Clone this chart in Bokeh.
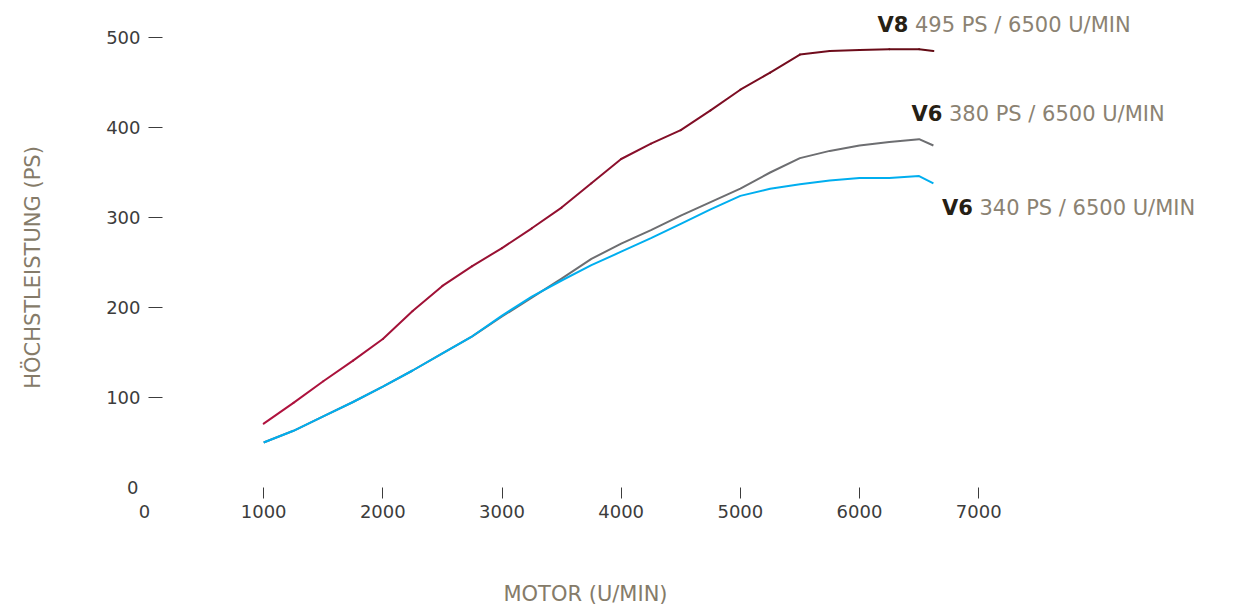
from bokeh.plotting import figure
from bokeh.models import Range1d, LinearAxis, FixedTicker, Label
from bokeh.embed import file_html
from bokeh.resources import INLINE

# ---------------- data ----------------
rpm = [1000, 1250, 1500, 1750, 2000, 2250, 2500, 2750, 3000, 3250, 3500, 3750,
       4000, 4250, 4500, 4750, 5000, 5250, 5500, 5750, 6000, 6250, 6500, 6620]
v8_495_ps = [71, 94, 118, 141, 165, 196, 224, 246, 266, 288, 311, 338,
             365, 382, 397, 419, 442, 461, 481, 485, 486, 487, 487, 485]
v6_380_ps = [50, 63, 79, 95, 112, 130, 149, 168, 190, 211, 232, 254,
             271, 286, 302, 317, 332, 350, 366, 374, 380, 384, 387, 380]
v6_340_ps = [50, 63, 79, 95, 112, 130, 149, 168, 191, 212, 230, 247,
             262, 277, 293, 309, 324, 332, 337, 341, 344, 344, 346, 338]

x_ticks = [1000, 2000, 3000, 4000, 5000, 6000, 7000]
y_ticks = [100, 200, 300, 400, 500]
zero_tick = [0]

labels_bold = ["V8", "V6", "V6"]
labels_rest = ["495 PS / 6500 U/MIN", "380 PS / 6500 U/MIN", "340 PS / 6500 U/MIN"]
x_title = "MOTOR (U/MIN)"
y_title = "HÖCHSTLEISTUNG (PS)"

# ---------------- layout helpers (page pixels -> data) ----------------
W, H = 1255, 605
OX, OY = 0, 0
PX0, SX = 144.0, 0.11917   # page x of 0 rpm, px per rpm
PY0, SY = 487.0, 0.9       # page y of 0 PS, px per PS


def dx(px):
    return (px - PX0) / SX


def dy(py):
    return (PY0 - py) / SY


FONT = "DejaVu Sans"

p = figure(width=W, height=H,
           x_range=Range1d(dx(OX), dx(OX + W)),
           y_range=Range1d(dy(OY + H), dy(OY)),
           x_axis_location=None, y_axis_location=None,
           toolbar_location=None, output_backend="svg",
           min_border=0, outline_line_color=None)
p.min_border_left = p.min_border_right = p.min_border_top = p.min_border_bottom = 0
p.background_fill_color = "white"
p.border_fill_color = "white"
p.xgrid.visible = False
p.ygrid.visible = False
p.title.visible = False


def style_axis(ax, tick_color, tick_out, standoff):
    ax.axis_line_color = None
    ax.minor_tick_line_color = None
    ax.major_tick_in = 0
    ax.major_tick_out = tick_out
    ax.major_tick_line_color = tick_color
    ax.major_tick_line_width = 1
    ax.major_label_standoff = standoff
    ax.major_label_text_font = FONT
    ax.major_label_text_font_size = "18px"
    ax.major_label_text_color = "#3c3c3c"


YAX_X = dx(162)
yax = LinearAxis(ticker=FixedTicker(ticks=y_ticks, minor_ticks=[]), fixed_location=YAX_X)
style_axis(yax, "#3c3c3c", 14, 8)
p.add_layout(yax, "left")

yax0 = LinearAxis(ticker=FixedTicker(ticks=zero_tick, minor_ticks=[]), fixed_location=YAX_X)
style_axis(yax0, None, 14, 10)
p.add_layout(yax0, "left")

xax = LinearAxis(ticker=FixedTicker(ticks=x_ticks, minor_ticks=[]), fixed_location=0)
style_axis(xax, "#3c3c3c", 11, 6)
p.add_layout(xax, "below")

xax0 = LinearAxis(ticker=FixedTicker(ticks=zero_tick, minor_ticks=[]), fixed_location=0)
style_axis(xax0, None, 11, 6)
p.add_layout(xax0, "below")

# ---------------- lines ----------------
p.line(rpm, v6_380_ps, line_color="#6d6e71", line_width=2, line_join="round")
p.line(rpm, v6_340_ps, line_color="#00aeef", line_width=2, line_join="round")

# V8 line with a crimson -> maroon colour run
stops = [(0.0, (178, 18, 63)), (0.5, (140, 16, 45)), (1.0, (96, 10, 18))]


def grad(t):
    for (t0, c0), (t1, c1) in zip(stops[:-1], stops[1:]):
        if t <= t1:
            f = (t - t0) / (t1 - t0)
            return "#%02x%02x%02x" % tuple(int(round(a + (b - a) * f)) for a, b in zip(c0, c1))
    return "#%02x%02x%02x" % stops[-1][1]


n = len(rpm) - 1
xs = [[rpm[i], rpm[i + 1]] for i in range(n)]
ys = [[v8_495_ps[i], v8_495_ps[i + 1]] for i in range(n)]
cols = [grad((i + 0.5) / n) for i in range(n)]
p.multi_line(xs, ys, line_color=cols, line_width=2, line_cap="round", line_join="round")

# ---------------- series labels ----------------
LS = 21
label_centers = [(1003.5, 24), (1037.5, 113), (1068, 207.5)]
for bold, rest, (cx, cy) in zip(labels_bold, labels_rest, label_centers):
    bw = 1.47 * LS
    sp = 0.318 * LS
    rw = 10.27 * LS
    left = cx - (bw + sp + rw) / 2
    p.add_layout(Label(x=dx(left), y=dy(cy), text=bold, text_font=FONT,
                       text_font_style="bold", text_font_size=f"{LS}px",
                       text_color="#262014", text_align="left", text_baseline="middle"))
    p.add_layout(Label(x=dx(left + bw + sp), y=dy(cy), text=rest, text_font=FONT,
                       text_font_size=f"{LS}px", text_color="#8b8272",
                       text_align="left", text_baseline="middle"))

# ---------------- axis titles ----------------
p.add_layout(Label(x=dx(585), y=dy(593), text=x_title, text_font=FONT,
                   text_font_size="21px", text_color="#857b69",
                   text_align="center", text_baseline="middle"))
p.add_layout(Label(x=dx(32.5), y=dy(267), text=y_title, text_font=FONT,
                   text_font_size="21px", text_color="#857b69", angle=90, angle_units="deg",
                   text_align="center", text_baseline="middle"))

open("out.html", "w").write(file_html(p, INLINE))
